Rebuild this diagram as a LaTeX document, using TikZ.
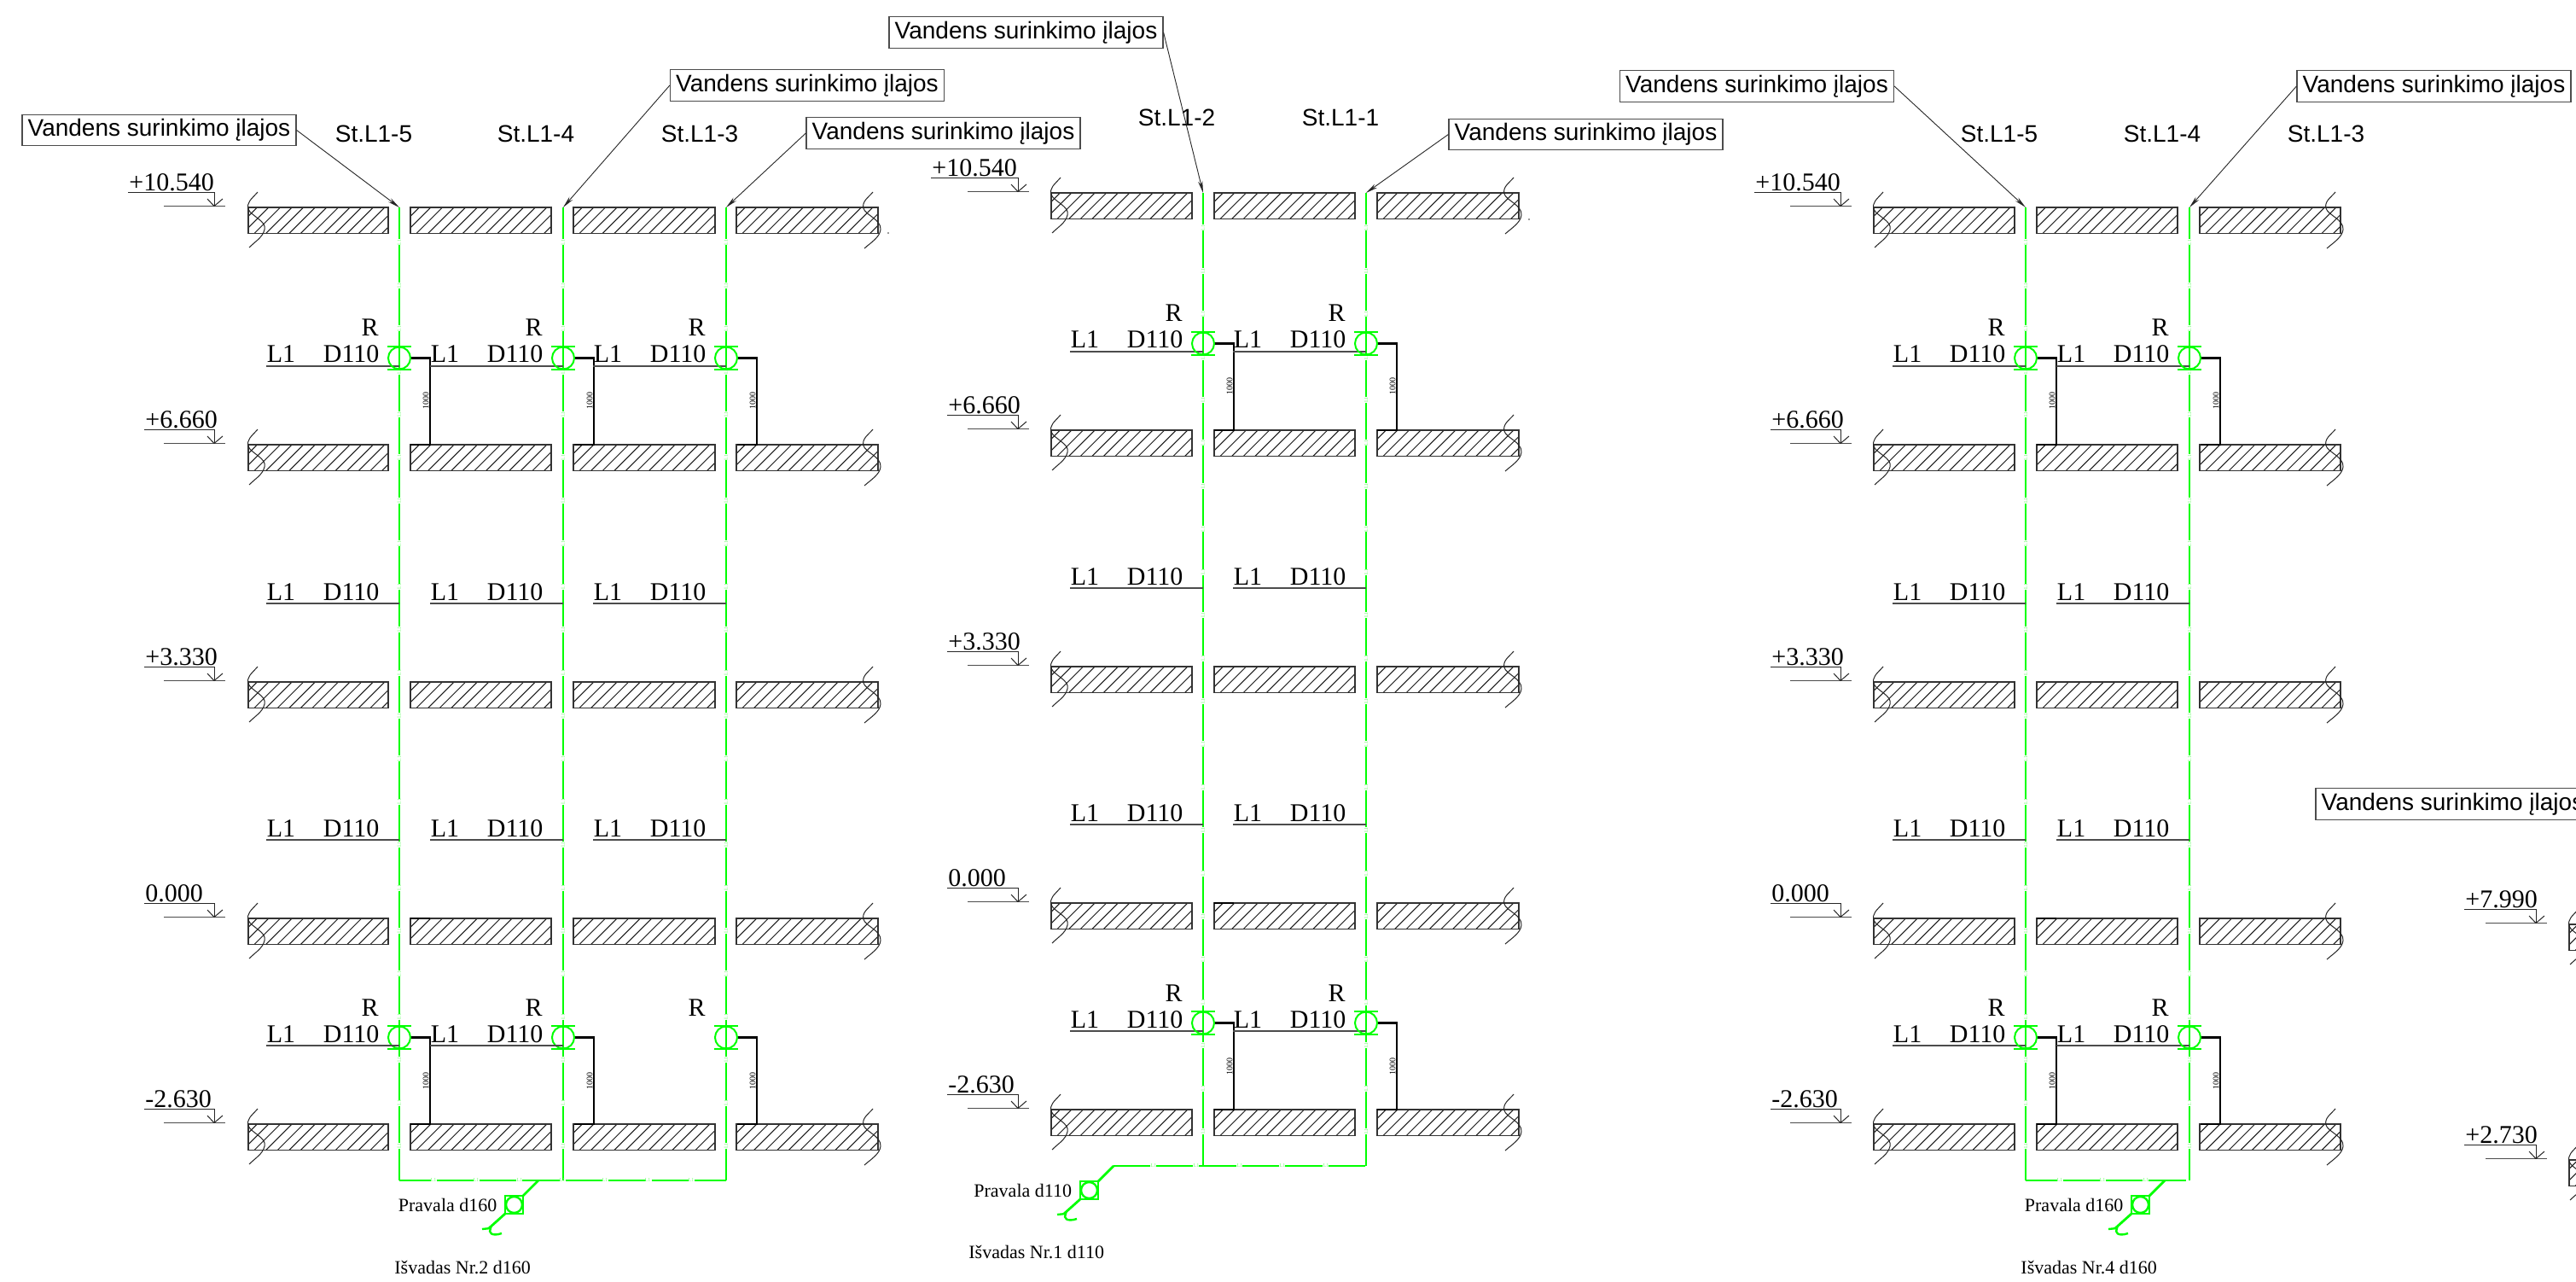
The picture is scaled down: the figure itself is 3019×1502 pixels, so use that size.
\documentclass[tikz,border=0pt]{standalone}
\usepackage{fontspec}
\setmainfont{Liberation Serif}
\newfontfamily\boxfont{Liberation Sans}
\usetikzlibrary{arrows.meta}
\definecolor{pipegreen}{RGB}{0,255,0}
\definecolor{tinygreen}{RGB}{110,255,110}
\newcount\nid
\newcommand{\lbl}[4][]{\global\advance\nid by 1\relax\node[#1] (n\the\nid) at (#2,#3) {#4};}
\tikzset{
  x=0.5pt,y=-0.5pt,
  bigtext/.style={inner sep=0pt,anchor=base west,font=\fontsize{15}{15}\selectfont},
  smalltext/.style={inner sep=0pt,anchor=base west,font=\fontsize{11}{11}\selectfont},
  headtext/.style={inner sep=0pt,font=\boxfont\fontsize{14}{14}\selectfont},
  callout/.style={draw=black!70,line width=0.6pt,fill=white,inner sep=0pt,minimum width=160.5pt,minimum height=18.2pt,font=\boxfont\fontsize{14}{14}\selectfont},
  leader/.style={draw=black!85,line width=0.45pt,-{Stealth[length=7pt,width=2.6pt]}},
  thinl/.style={draw=black!85,line width=0.5pt},
  underl/.style={draw=black!70,line width=0.8pt},
  slabedge/.style={draw=black!80,line width=0.7pt},
  hatchl/.style={draw=black!90,line width=0.5pt},
  pipeg/.style={draw=pipegreen,line width=1.4pt},
  pipegd/.style={draw=pipegreen,line width=1.4pt,dash pattern=on 21.7pt off 3.5pt,dash phase=#1},
  blackb/.style={draw=black,line width=1.2pt},
}
% slab
\newcommand{\slab}[3]{%
  \begin{scope}
    \clip (#1,#3) rectangle (#2,{#3+30.5});
    \foreach \k in {0,...,15}{\draw[hatchl] ({#1-33.8+13.6*\k},{#3+30.5}) -- ++(31,-31);}
  \end{scope}
  \draw[slabedge] (#1,#3) rectangle (#2,{#3+30.5});}
\newcommand{\leftbreak}[2]{\draw[thinl] ({#1+11},{#2-18}) .. controls ({#1+3},{#2-9}) and ({#1-2},{#2-6}) .. (#1,{#2+2}) .. controls ({#1+3},{#2+10}) and ({#1+22},{#2+16}) .. ({#1+19},{#2+26}) .. controls ({#1+17},{#2+35}) and ({#1+8},{#2+40}) .. ({#1+1},{#2+47});}
\newcommand{\rightbreak}[2]{\draw[thinl] ({#1-6},{#2-18}) .. controls ({#1-12},{#2-11}) and ({#1-19},{#2-7}) .. ({#1-17},{#2+1}) .. controls ({#1-15},{#2+9}) and ({#1+4},{#2+14}) .. ({#1+3},{#2+26}) .. controls ({#1+2},{#2+35}) and ({#1-8},{#2+41}) .. ({#1-16},{#2+48});}
% elevation mark: vertex x, slab top, start x, text
\newcommand{\elev}[4]{%
  \draw[thinl] (#3,{#2-17.5}) -- (#1,{#2-17.5}) -- (#1,{#2-1.5});
  \draw[underl] ({#1-59},{#2-1.5}) -- ({#1+13},{#2-1.5});
  \draw[thinl] ({#1-8},{#2-10}) -- (#1,{#2-1.5}) -- ({#1+10},{#2-10});
  \lbl[bigtext]{#3+1}{#2-19.5}{#4}}
% pipe riser
\newcommand{\riser}[3]{%
  \draw[pipegd=2.95pt] (#1,#2) -- (#1,#3);
  \foreach \k in {0,...,21}{\lbl[inner sep=0pt,rotate=90,text=tinygreen,font=\fontsize{3}{3}\selectfont]{#1}{#2+41+50.4*\k}{L1}}}
% cleanout with branch
\newcommand{\cleanout}[2]{%
  \draw[blackb] ({#1+13},{#2-101.5}) -- ({#1+36},{#2-101.5}) -- ({#1+36},#2) -- ({#1+13},#2);
  \draw[pipeg,line width=1pt] (#1,{#2-101.5}) circle (13);
  \draw[pipeg] ({#1-14},{#2-115}) -- ({#1+14},{#2-115}) ({#1-14},{#2-88}) -- ({#1+14},{#2-88});
  \lbl[inner sep=0pt,rotate=90,font=\fontsize{5}{5}\selectfont,text=black]{#1+31}{#2-51}{1000}
  \lbl[bigtext,anchor=base east]{#1-24}{#2-127}{R}}
% branch label
\newcommand{\branchlabel}[2]{%
  \draw[underl] ({#1-156},{#2-92}) -- (#1,{#2-92});
  \lbl[bigtext]{#1-155.5}{#2-96}{L1}
  \lbl[bigtext]{#1-89.5}{#2-96}{D110}}
% outlet: square left/top
\newcommand{\outlet}[2]{%
  \draw[pipeg] (#1,#2) rectangle ({#1+21},{#2+21});
  \draw[pipeg,line width=1.2pt] ({#1+10.5},{#2+10.5}) circle (9.5);
  \draw[pipeg] ({#1+21},#2) -- ({#1+39},{#2-18});
  \draw[pipeg] (#1,{#2+21}) -- ({#1-19},{#2+38});
  \draw[pipeg,line width=1.2pt] ({#1-27},{#2+39}) -- ({#1-17},{#2+38}) .. controls ({#1-20},{#2+43}) and ({#1-16},{#2+48}) .. ({#1-4},{#2+44});}
\begin{document}
\begin{tikzpicture}
\clip (0,0) rectangle (3019,1502);
\fill[white] (0,0) rectangle (3019,1502);
% --- slabs
\foreach \y in {243,521,799,1076,1317}{
  \slab{291}{455}{\y}\slab{481}{646}{\y}\slab{672}{838}{\y}\slab{863}{1029}{\y}
  \leftbreak{291}{\y}\rightbreak{1029}{\y}
  \slab{2196}{2361}{\y}\slab{2387}{2552}{\y}\slab{2578}{2743}{\y}
  \leftbreak{2196}{\y}\rightbreak{2743}{\y}}
\foreach \y in {226,504,781,1058,1300}{
  \slab{1232}{1397}{\y}\slab{1423}{1588}{\y}\slab{1614}{1780}{\y}
  \leftbreak{1232}{\y}\rightbreak{1780}{\y}}
\slab{3011}{3176}{1083}\leftbreak{3011}{1083}
\slab{3011}{3176}{1359}\leftbreak{3011}{1359}
% short marks on the zero level
\draw[blackb,line width=0.9pt] (481,1076) -- (504,1076);
\draw[blackb,line width=0.9pt] (1423,1058) -- (1446,1058);
\draw[blackb,line width=0.6pt] (2387,1076) -- (2410,1076);
% tiny specks beside the break lines
\fill[black!80] (1041,273) circle (0.9);
\fill[black!80] (1792,257) circle (0.9);
% --- elevations
\foreach \dx/\dy in {0/0,1906/0}{
  \elev{251+\dx}{243}{150+\dx}{+10.540}
  \elev{251+\dx}{521}{169+\dx}{+6.660}
  \elev{251+\dx}{799}{169+\dx}{+3.330}
  \elev{251+\dx}{1076}{169+\dx}{0.000}
  \elev{251+\dx}{1317}{169+\dx}{-2.630}}
\elev{1193}{226}{1091}{+10.540}
\elev{1193}{504}{1110}{+6.660}
\elev{1193}{781}{1110}{+3.330}
\elev{1193}{1058}{1110}{0.000}
\elev{1193}{1300}{1110}{-2.630}
\elev{2972}{1083}{2888}{+7.990}
\elev{2972}{1359}{2888}{+2.730}
% --- risers
\riser{468}{243}{1383}\riser{660}{243}{1383}\riser{851}{243}{1383}
\riser{1410}{226}{1366}\riser{1601}{226}{1366}
\riser{2374}{243}{1383}\riser{2566}{243}{1383}
% bottom runs
\draw[pipegd=3.45pt] (468,1383) -- (851,1383);
\draw[pipegd=0pt] (1304.5,1366) -- (1601,1366);
\draw[pipegd=3.45pt] (2374,1383) -- (2566,1383);
\foreach \x in {508,558,609,659,709,759,810,2414,2464,2515}{\lbl[inner sep=0pt,text=tinygreen,font=\fontsize{3}{3}\selectfont]{\x}{1383}{L1}}
\foreach \x in {1352,1402,1453,1503,1554}{\lbl[inner sep=0pt,text=tinygreen,font=\fontsize{3}{3}\selectfont]{\x}{1366}{L1}}
% --- branch labels
\foreach \p in {468,660,851}{\branchlabel{\p}{521}\branchlabel{\p}{799}\branchlabel{\p}{1076}\cleanout{\p}{521}}
\foreach \p in {468,660,851}{\cleanout{\p}{1317}}
\foreach \p in {468,660}{\branchlabel{\p}{1317}}
\foreach \p in {1410,1601}{\branchlabel{\p}{504}\branchlabel{\p}{781}\branchlabel{\p}{1058}\branchlabel{\p}{1300}\cleanout{\p}{504}\cleanout{\p}{1300}}
\foreach \p in {2374,2566}{\branchlabel{\p}{521}\branchlabel{\p}{799}\branchlabel{\p}{1076}\branchlabel{\p}{1317}\cleanout{\p}{521}\cleanout{\p}{1317}}
% --- outlets
\outlet{592}{1401}
\outlet{1266}{1384}
\outlet{2498}{1401}
\lbl[smalltext]{466.5}{1419}{Pravala d160}
\lbl[smalltext]{462}{1492}{Išvadas Nr.2 d160}
\lbl[smalltext]{1141}{1402}{Pravala d110}
\lbl[smalltext]{1135}{1474}{Išvadas Nr.1 d110}
\lbl[smalltext]{2372.5}{1419}{Pravala d160}
\lbl[smalltext]{2368}{1492}{Išvadas Nr.4 d160}
% --- stack headings
\lbl[headtext]{438}{157}{St.L1-5}
\lbl[headtext]{628}{157}{St.L1-4}
\lbl[headtext]{820}{157}{St.L1-3}
\lbl[headtext]{1379}{138}{St.L1-2}
\lbl[headtext]{1571}{138}{St.L1-1}
\lbl[headtext]{2343}{157}{St.L1-5}
\lbl[headtext]{2534}{157}{St.L1-4}
\lbl[headtext]{2726}{157}{St.L1-3}
% --- callouts
\node[callout] (boxa) at (186.5,152.5) {Vandens surinkimo įlajos};
\node[callout] (boxb) at (946,100) {Vandens surinkimo įlajos};
\node[callout] (boxc) at (1105.5,156) {Vandens surinkimo įlajos};
\node[callout] (boxd) at (1202.5,38) {Vandens surinkimo įlajos};
\node[callout] (boxe) at (1858.5,157.5) {Vandens surinkimo įlajos};
\node[callout] (boxf) at (2059,101) {Vandens surinkimo įlajos};
\node[callout] (boxg) at (2852.5,101) {Vandens surinkimo įlajos};
\node[callout] (boxh) at (2874.5,942) {Vandens surinkimo įlajos};
\coordinate (tipa) at (468,243);
\coordinate (tipb) at (660,243);
\coordinate (tipc) at (851,243);
\coordinate (tipd) at (1410,226);
\coordinate (tipe) at (1601,226);
\coordinate (tipf) at (2374,243);
\coordinate (tipg) at (2566,243);
\draw[leader] (boxa.east) -- (tipa);
\draw[leader] (boxb.west) -- (tipb);
\draw[leader] (boxc.west) -- (tipc);
\draw[leader] (boxd.east) -- (tipd);
\draw[leader] (boxe.west) -- (tipe);
\draw[leader] (boxf.east) -- (tipf);
\draw[leader] (boxg.west) -- (tipg);
\end{tikzpicture}
\end{document}
